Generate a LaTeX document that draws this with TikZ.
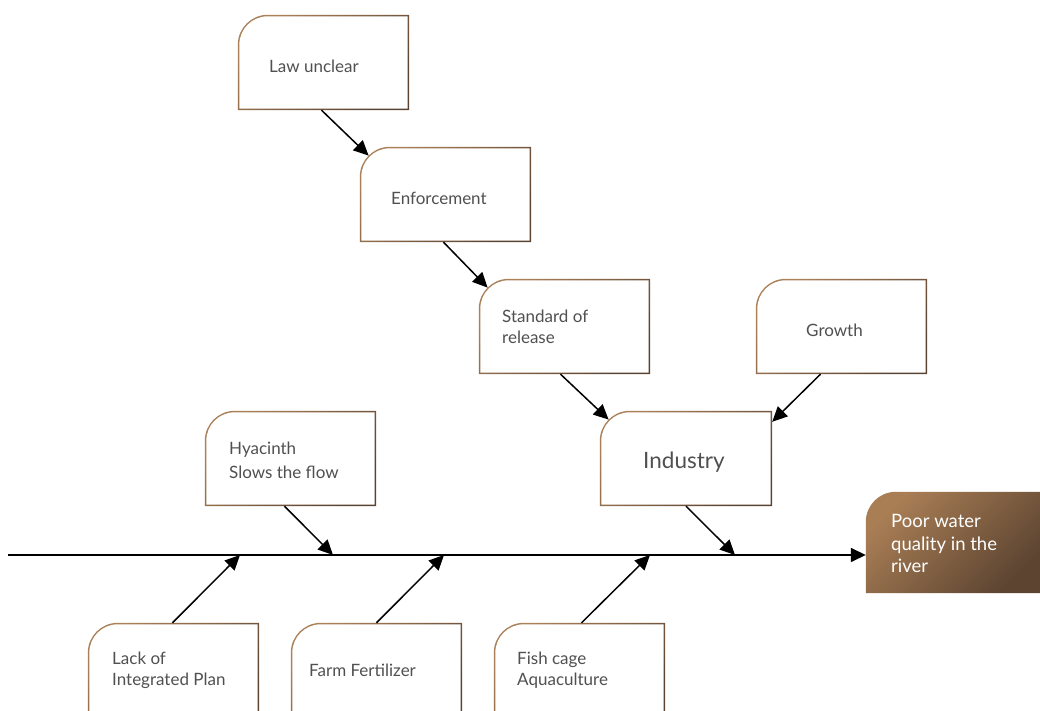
\documentclass[tikz,border=0pt]{standalone}
\usepackage{fontspec}
\setmainfont{Lato}
\usetikzlibrary{arrows.meta,backgrounds}
\definecolor{bL}{HTML}{AB8159}
\definecolor{bD}{HTML}{5A4331}
\definecolor{eL}{HTML}{A97E55}
\definecolor{eD}{HTML}{5C4431}
\definecolor{txt}{HTML}{505050}
\tikzset{
  box/.style={rectangle,draw=none,inner sep=0pt,minimum width=171pt,minimum height=95pt},
  lbl/.style={anchor=west,inner sep=0pt,align=left,text=txt,font=\fontsize{17}{21}\selectfont},
  arr/.style={line width=1.5pt,-{Triangle[length=15pt,width=14pt]}},
}
\newcommand{\cutbox}[1]{%
  \shade[top color=bL,bottom color=bD,shading angle=45] (#1.south west) -- ([yshift=-30pt]#1.north west) arc[start angle=180,end angle=90,radius=30pt] -- (#1.north east) -- (#1.south east) -- cycle;
  \fill[white] ([shift={(1.5pt,1.5pt)}]#1.south west) -- ([shift={(1.5pt,-30pt)}]#1.north west) arc[start angle=180,end angle=90,radius=28.5pt] -- ([shift={(-1.5pt,-1.5pt)}]#1.north east) -- ([shift={(-1.5pt,1.5pt)}]#1.south east) -- cycle;}
\begin{document}
\begin{tikzpicture}[x=1pt,y=1pt]
\useasboundingbox (0,0) rectangle (1040,711);
\clip (0,0) rectangle (1040,711);
% boxes
\node[box] (law) at (323.5,648.5) {};
\node[box] (enf) at (445.5,516.5) {};
\node[box] (std) at (564.5,384.5) {};
\node[box] (gro) at (841.5,384.5) {};
\node[box,minimum width=172pt] (ind) at (686,252.5) {};
\node[box] (hya) at (290.5,252.5) {};
\node[box] (lack) at (173.5,40.5) {};
\node[box] (farm) at (376.5,40.5) {};
\node[box] (fish) at (579.5,40.5) {};
\node[box,minimum width=174pt,minimum height=101pt] (eff) at (953,168.5) {};
\begin{scope}[on background layer]
\foreach \n in {law,enf,std,gro,ind,hya,lack,farm,fish}{\cutbox{\n}}
\shade[top color=eL,bottom color=eD,shading angle=45] (eff.south west) -- ([yshift=-30pt]eff.north west) arc[start angle=180,end angle=90,radius=30pt] -- (eff.north east) -- (eff.south east) -- cycle;
\end{scope}
% labels
\node[lbl] (tlaw) at (269,645) {Law unclear};
\node[lbl] (tenf) at (391,513) {Enforcement};
\node[lbl] (tstd) at (502,384.5) {Standard of\\release};
\node[lbl] (tgro) at (806,381) {Growth};
\node[lbl,font=\fontsize{22.5}{25}\selectfont] (tind) at (643,249) {Industry};
\node[lbl,font=\fontsize{17}{24}\selectfont] (thya) at (229,251) {Hyacinth\\Slows the flow};
\node[lbl] (tlack) at (112,40.5) {Lack of\\Integrated Plan};
\node[lbl] (tfarm) at (309,41) {Farm Fertilizer};
\node[lbl] (tfish) at (517,40.5) {Fish cage\\Aquaculture};
\node[lbl,text=white,font=\fontsize{18.5}{22.5}\selectfont] (teff) at (891,167.5) {Poor water\\quality in the\\river};
% spine
\coordinate (s0) at (8,156);
\coordinate (p1) at (240,156);
\coordinate (p2) at (333,156);
\coordinate (p3) at (444,156);
\coordinate (p4) at (650,156);
\coordinate (p5) at (735,156);
\draw[arr] (s0) -- (s0 -| eff.west);
% corner targets
\coordinate (cenf) at ([shift={(8.79pt,-8.79pt)}]enf.north west);
\coordinate (cstd) at ([shift={(8.79pt,-8.79pt)}]std.north west);
\coordinate (cind) at ([shift={(8.79pt,-8.79pt)}]ind.north west);
\coordinate (rind) at ([yshift=-11pt]ind.north east);
\draw[arr] ([xshift=-2pt]law.south) -- (cenf);
\draw[arr] ([xshift=-2pt]enf.south) -- (cstd);
\draw[arr] ([xshift=-4pt]std.south) -- (cind);
\draw[arr] ([xshift=-21pt]gro.south) -- (rind);
\draw[arr] (ind.south) -- (p5);
\draw[arr] ([xshift=-6pt]hya.south) -- (p2);
\draw[arr] ([xshift=-1pt]lack.north) -- (p1);
\draw[arr] (farm.north) -- (p3);
\draw[arr] ([xshift=2pt]fish.north) -- (p4);
\end{tikzpicture}
\end{document}
